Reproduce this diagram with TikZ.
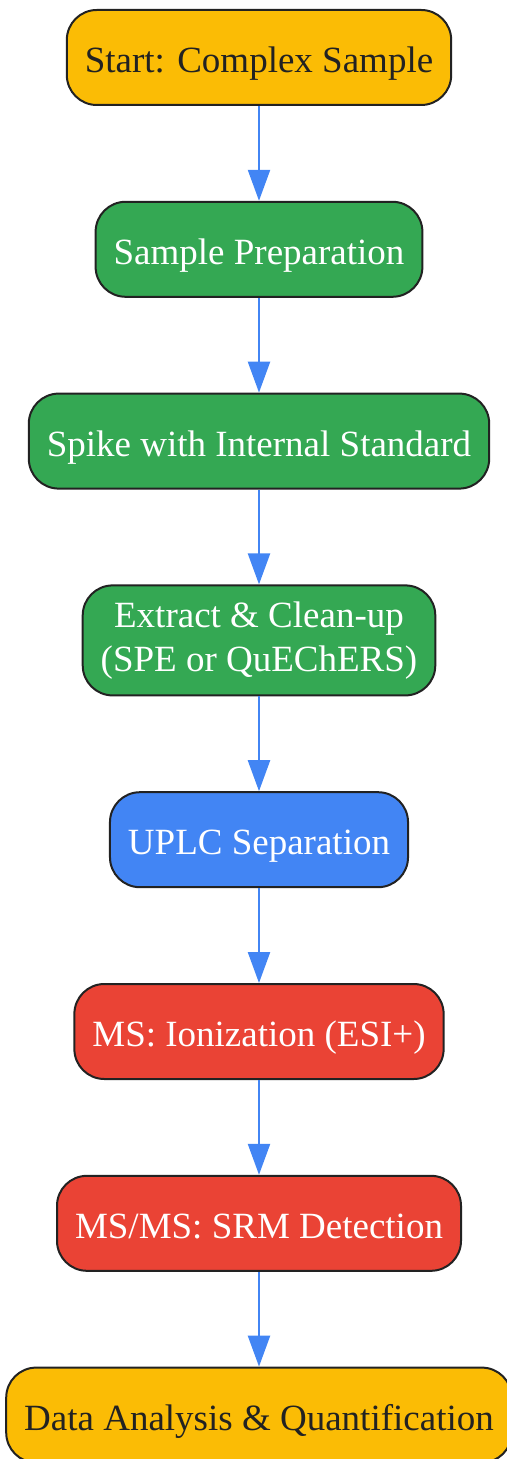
\documentclass[tikz,border=0pt]{standalone}
\usepackage{fontspec}
\setmainfont{Liberation Serif}
\usetikzlibrary{arrows.meta, positioning}
\definecolor{amber}{HTML}{FBBC05}
\definecolor{leaf}{HTML}{34A853}
\definecolor{sky}{HTML}{4285F4}
\definecolor{tomato}{HTML}{EA4335}
\definecolor{ink}{HTML}{222222}
\tikzset{%
	box/.style={draw=ink, line width=1pt, rectangle, rounded corners=15pt,%
		minimum height=47.5pt, inner xsep=9pt, inner ysep=6pt, align=center,%
		font=\fontsize{18.5}{22}\selectfont, node distance=47.4pt},
	single/.style={text height=16pt, text depth=1pt},
	termbox/.style={box, single, fill=amber, text=ink},
	prepbox/.style={box, single, fill=leaf, text=white},
	lcbox/.style={box, single, fill=sky, text=white},
	msbox/.style={box, single, fill=tomato, text=white},
	link/.style={draw=sky, line width=1.2pt, -{Triangle[length=15.5pt, width=11pt]}}
}
\begin{document}
\begin{tikzpicture}
	\useasboundingbox (0,0) rectangle (253.5pt,-729.5pt);
	\node[termbox] (start) at (129.5pt,-28.75pt) {Start: Complex Sample};
	\node[prepbox, below=of start] (prep) {Sample Preparation};
	\node[prepbox, below=of prep] (spike) {Spike with Internal Standard};
	\node[box, fill=leaf, text=white, minimum height=55pt, below=of spike] (clean)
		{Extract \& Clean-up\\(SPE or QuEChERS)};
	\node[lcbox, below=of clean] (uplc) {UPLC Separation};
	\node[msbox, below=of uplc] (ion) {MS: Ionization (ESI+)};
	\node[msbox, below=of ion] (srm) {MS/MS: SRM Detection};
	\node[termbox, below=of srm] (quant) {Data Analysis \& Quantification};

	\draw[link] (start) -- (prep);
	\draw[link] (prep) -- (spike);
	\draw[link] (spike) -- (clean);
	\draw[link] (clean) -- (uplc);
	\draw[link] (uplc) -- (ion);
	\draw[link] (ion) -- (srm);
	\draw[link] (srm) -- (quant);
\end{tikzpicture}
\end{document}
